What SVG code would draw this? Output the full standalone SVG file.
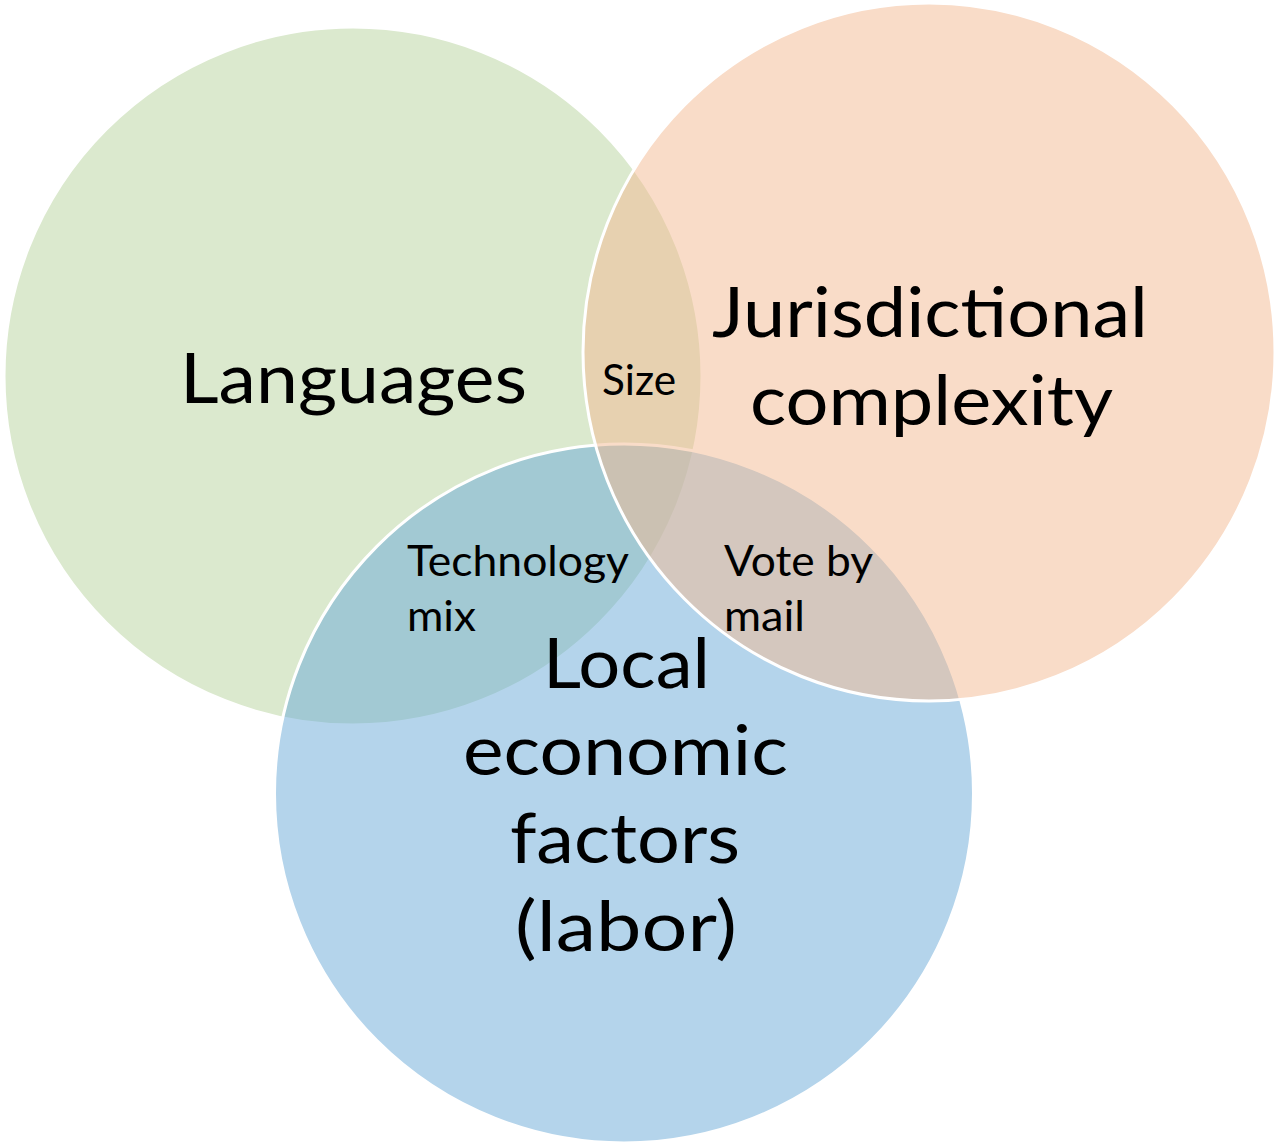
<svg xmlns="http://www.w3.org/2000/svg" width="1281" height="1144" viewBox="0 0 1281 1144">
<style>
.c{stroke:#ffffff;stroke-width:3;fill-opacity:0.5}
.big{font-family:Lato,"Open Sans","Liberation Sans",sans-serif;font-size:70px;fill:#000;text-anchor:middle}
.small{font-family:Lato,"Open Sans","Liberation Sans",sans-serif;font-size:43px;fill:#000}
</style>
<rect width="1281" height="1144" fill="#ffffff"/>
<g id="languages">
<circle class="c" cx="353" cy="376" r="349" fill="#b7d39d"/>
</g>
<g id="local">
<circle class="c" cx="624" cy="793.5" r="349.5" fill="#69a9d7"/>
</g>
<g id="jurisdictional">
<ellipse class="c" cx="929" cy="352" rx="346" ry="349" fill="#f3b991"/>
</g>
<g id="connectors"></g>
<g id="labels">
<text class="big" x="353.5" y="403" textLength="347" lengthAdjust="spacingAndGlyphs">Languages</text>
<text class="big" x="930" y="337" textLength="436" lengthAdjust="spacingAndGlyphs">Jurisdictional</text>
<text class="big" x="931.5" y="425" textLength="363" lengthAdjust="spacingAndGlyphs">complexity</text>
<text class="big" x="626.5" y="688" textLength="167" lengthAdjust="spacingAndGlyphs">Local</text>
<text class="big" x="625.5" y="775" textLength="325" lengthAdjust="spacingAndGlyphs">economic</text>
<text class="big" x="625" y="863" textLength="230" lengthAdjust="spacingAndGlyphs">factors</text>
<text class="big" x="626" y="951" textLength="222" lengthAdjust="spacingAndGlyphs">(labor)</text>
<text class="small" x="639" y="395" text-anchor="middle" textLength="74" lengthAdjust="spacingAndGlyphs">Size</text>
<text class="small" x="407" y="576" textLength="222" lengthAdjust="spacingAndGlyphs">Technology</text>
<text class="small" x="407" y="631" textLength="69" lengthAdjust="spacingAndGlyphs">mix</text>
<text class="small" x="724" y="576" textLength="149" lengthAdjust="spacingAndGlyphs">Vote by</text>
<text class="small" x="724" y="631" textLength="81" lengthAdjust="spacingAndGlyphs">mail</text>
</g>
</svg>
